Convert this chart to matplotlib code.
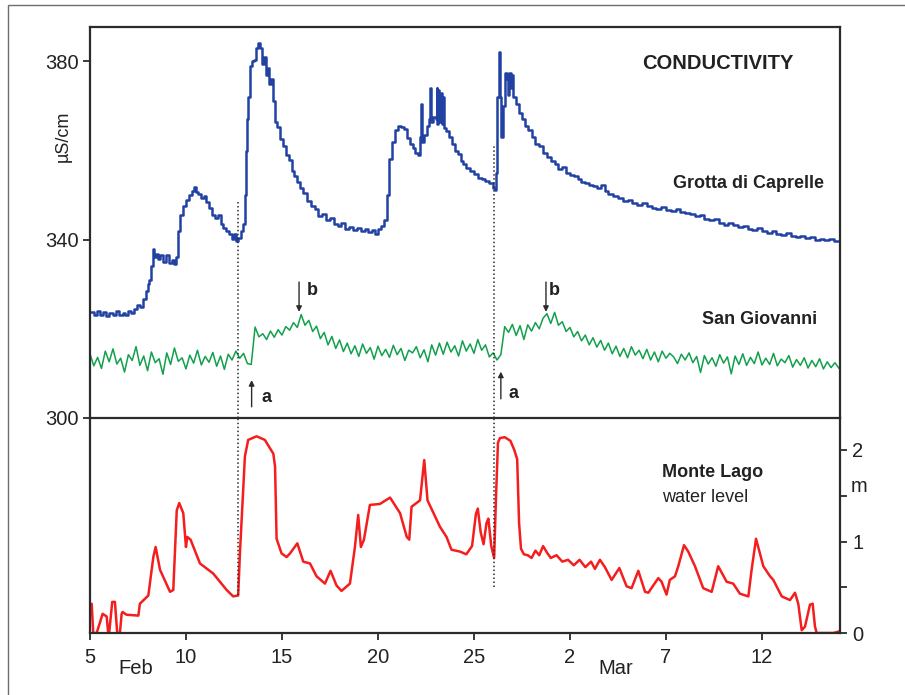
import matplotlib
matplotlib.use("Agg")
import matplotlib.pyplot as plt
from matplotlib.patches import Rectangle
import numpy as np

plt.rcParams['font.family'] = ['Liberation Sans', 'DejaVu Sans']

# Grotta di Caprelle conductivity [uS/cm], day counted from 1 Feb (Mar 2 = day 30)
blue_day = [5.0, 5.2, 5.35, 5.5, 5.7, 5.85, 6.0, 6.2, 6.35, 6.5, 6.7, 6.85, 7.0, 7.15, 7.3, 7.45,
            7.6, 7.75, 7.9, 8.0, 8.1, 8.2, 8.28, 8.35, 8.45, 8.55, 8.65, 8.8, 8.95, 9.1, 9.25, 9.4,
            9.5, 9.6, 9.7, 9.85, 10.0, 10.15, 10.3, 10.4, 10.5, 10.65, 10.8, 10.95, 11.05, 11.2,
            11.35, 11.5, 11.65, 11.8, 11.95, 12.1, 12.25, 12.4, 12.5, 12.6, 12.72, 12.85, 12.95,
            13.05, 13.12, 13.18, 13.25, 13.32, 13.45, 13.55, 13.65, 13.75, 13.85, 13.95, 14.05,
            14.15, 14.25, 14.35, 14.45, 14.55, 14.65, 14.75, 14.9, 15.05, 15.2, 15.35, 15.5, 15.65,
            15.8, 15.95, 16.1, 16.3, 16.5, 16.7, 16.9, 17.1, 17.3, 17.5, 17.7, 17.9, 18.1, 18.3,
            18.5, 18.7, 18.9, 19.1, 19.3, 19.5, 19.7, 19.85, 20.0, 20.15, 20.3, 20.45, 20.6, 20.75,
            20.9, 21.05, 21.2, 21.35, 21.5, 21.65, 21.8, 21.95, 22.1, 22.2, 22.25, 22.3, 22.4,
            22.55, 22.65, 22.7, 22.75, 22.85, 23.0, 23.05, 23.1, 23.15, 23.2, 23.27, 23.32, 23.4,
            23.45, 23.55, 23.7, 23.85, 24.0, 24.15, 24.3, 24.45, 24.6, 24.8, 25.0, 25.2, 25.4,
            25.6, 25.8, 26.0, 26.08, 26.15, 26.22, 26.28, 26.33, 26.4, 26.5, 26.62, 26.7, 26.78,
            26.85, 26.95, 27.0, 27.05, 27.2, 27.35, 27.5, 27.65, 27.8, 28.0, 28.2, 28.4, 28.6,
            28.8, 29.0, 29.2, 29.4, 29.6, 29.8, 30.0, 30.2, 30.4, 30.6, 30.8, 31.0, 31.2, 31.4,
            31.6, 31.8, 32.0, 32.25, 32.5, 32.75, 33.0, 33.25, 33.5, 33.75, 34.0, 34.25, 34.5,
            34.75, 35.0, 35.25, 35.5, 35.75, 36.0, 36.25, 36.5, 36.75, 37.0, 37.25, 37.5, 37.75,
            38.0, 38.25, 38.5, 38.75, 39.0, 39.25, 39.5, 39.75, 40.0, 40.25, 40.5, 40.75, 41.0,
            41.25, 41.5, 41.75, 42.0, 42.25, 42.5, 42.75, 43.0, 43.25, 43.5, 43.75, 44.06]
blue_val = [323.8, 323.2, 324.0, 323.1, 323.7, 322.9, 323.5, 323.0, 323.9, 323.2, 323.6, 323.0,
            324.1, 323.6, 324.5, 325.4, 325.0, 326.6, 328.5, 330.0, 331.0, 334.0, 338.0, 336.0,
            336.8, 335.6, 336.6, 335.0, 336.5, 334.8, 335.5, 334.6, 336.0, 342.0, 345.5, 347.5,
            349.0, 350.0, 351.0, 351.8, 350.7, 350.2, 349.3, 349.8, 348.5, 347.0, 345.5, 344.8,
            345.6, 343.6, 342.6, 342.0, 341.2, 340.2, 341.3, 339.6, 340.3, 342.0, 343.5, 350.0,
            360.0, 367.0, 372.0, 379.0, 380.0, 380.3, 383.0, 384.2, 383.0, 379.5, 381.0, 377.0,
            378.5, 375.0, 376.0, 371.0, 366.5, 365.2, 362.5, 361.0, 359.0, 357.8, 355.5, 354.3,
            353.0, 351.5, 350.5, 348.6, 347.5, 346.8, 345.4, 345.8, 344.3, 344.8, 343.6, 343.1,
            343.8, 342.4, 342.9, 342.1, 342.7, 341.9, 342.5, 341.8, 342.2, 341.3, 342.5, 343.0,
            344.5, 350.0, 358.0, 362.0, 364.5, 365.5, 365.3, 364.8, 362.8, 361.5, 360.5, 359.5,
            359.0, 363.0, 370.5, 362.0, 363.5, 365.5, 367.0, 374.0, 366.5, 367.5, 367.0, 374.0,
            366.0, 373.5, 366.5, 373.0, 366.0, 372.0, 365.0, 364.3, 363.0, 361.5, 360.0, 359.2,
            357.6, 357.0, 356.0, 355.5, 354.8, 353.8, 353.6, 353.2, 352.8, 351.5, 351.2, 355.0,
            372.0, 382.0, 372.0, 363.0, 370.0, 377.5, 376.0, 372.5, 377.5, 374.0, 377.0, 372.0,
            370.5, 368.5, 367.0, 365.6, 364.6, 363.0, 361.5, 361.0, 359.5, 358.6, 357.7, 357.0,
            355.9, 356.3, 355.0, 354.6, 354.2, 353.5, 353.0, 352.6, 352.2, 352.0, 351.7, 352.3,
            351.0, 350.2, 349.7, 349.4, 348.6, 348.9, 348.2, 347.8, 348.3, 347.5, 347.2, 346.9,
            347.4, 346.7, 346.5, 346.9, 346.2, 346.0, 345.7, 345.2, 345.5, 344.7, 344.3, 344.6,
            343.8, 343.4, 343.7, 343.2, 342.8, 343.0, 342.5, 342.2, 342.6, 342.0, 341.6, 341.9,
            341.3, 341.1, 341.4, 340.9, 340.6, 340.9, 340.3, 340.5, 340.0, 340.2, 339.9, 340.1,
            339.7, 339.5]

# San Giovanni conductivity, sampled every 0.2 day from day 5
green_start = 5.0
green_step = 0.2
green_val = [314.4, 311.7, 313.6, 311.1, 315.0, 312.6, 315.5, 312.1, 313.4, 310.3, 314.2, 312.9,
             316.0, 311.8, 313.9, 310.6, 314.8, 312.4, 313.3, 309.8, 314.6, 312.0, 315.7, 312.7,
             313.5, 311.0, 314.1, 312.3, 315.2, 311.9, 313.8, 312.5, 314.7, 311.6, 313.9, 310.9,
             314.3, 313.0, 315.0, 313.4, 314.5, 312.2, 312.0, 320.4, 318.2, 318.9, 317.6, 319.5,
             318.1, 319.8, 318.6, 320.5, 319.7, 321.4, 320.3, 323.2, 320.8, 321.9, 319.4, 320.6,
             317.8, 319.2, 316.4, 318.3, 315.6, 317.5, 314.9, 316.8, 314.4, 316.2, 313.8, 316.6,
             314.5, 315.8, 313.2, 316.1, 314.0, 315.4, 313.6, 316.3, 314.2, 315.6, 312.9, 315.2,
             314.6, 316.0, 313.5, 315.3, 312.6, 316.4, 314.1, 316.8, 314.3, 317.0, 314.8, 316.2,
             313.9, 317.3, 315.0, 316.6, 314.5, 317.6, 315.2, 316.4, 313.7, 314.6, 313.0, 314.2,
             320.5, 319.2, 321.0, 318.5, 320.7, 317.6, 320.9, 319.5, 321.4, 320.0, 322.4, 323.4,
             321.2, 323.7, 320.8, 321.6, 319.4, 320.3, 318.2, 319.4, 317.3, 318.6, 316.4, 318.0,
             315.9, 317.4, 315.2, 316.8, 314.4, 316.1, 313.8, 315.6, 313.5, 316.0, 314.1, 315.2,
             313.3, 315.4, 313.0, 314.8, 312.6, 315.0, 313.4, 314.5, 313.7, 312.2, 314.3, 313.0,
             314.6, 312.4, 313.8, 310.2, 314.0, 312.1, 313.5, 311.6, 314.2, 312.3, 313.7, 309.9,
             313.9, 312.0, 314.4, 311.8, 313.6, 312.2, 314.8, 311.9, 313.4, 312.0, 314.5, 311.7,
             313.2, 312.4, 314.0, 311.4, 313.1, 311.8, 313.5, 311.2, 312.9, 311.5, 313.3, 311.0,
             312.6, 311.3, 312.4, 311.2]

# Monte Lago water level [m]
red_day = [5.0, 5.09, 5.17, 5.35, 5.66, 5.87, 5.95, 6.0, 6.16, 6.3, 6.42, 6.56, 6.65, 6.7, 6.9,
           7.52, 7.6, 8.04, 8.3, 8.42, 8.65, 9.17, 9.34, 9.52, 9.65, 9.86, 10.0, 10.07, 10.24,
           10.73, 11.42, 12.12, 12.46, 12.72, 12.81, 13.07, 13.24, 13.68, 14.11, 14.55, 14.64,
           14.72, 14.98, 15.24, 15.42, 15.8, 16.11, 16.46, 16.8, 17.24, 17.53, 17.84, 18.1, 18.54,
           18.8, 18.97, 19.11, 19.27, 19.58, 20.1, 20.63, 21.15, 21.5, 21.63, 21.75, 22.19, 22.41,
           22.58, 23.23, 23.57, 23.83, 24.27, 24.6, 24.9, 25.1, 25.2, 25.35, 25.5, 25.65, 25.75,
           25.9, 26.05, 26.15, 26.25, 26.35, 26.6, 26.9, 27.1, 27.25, 27.35, 27.45, 27.6, 27.8,
           28.0, 28.2, 28.4, 28.6, 28.8, 29.0, 29.3, 29.6, 29.9, 30.2, 30.5, 30.8, 31.1, 31.3,
           31.56, 31.82, 32.17, 32.57, 32.95, 33.21, 33.56, 33.91, 34.08, 34.6, 34.77, 35.03,
           35.2, 35.47, 35.64, 35.94, 36.16, 36.51, 36.94, 37.38, 37.72, 38.16, 38.5, 38.85,
           39.29, 39.46, 39.69, 40.07, 40.42, 40.59, 41.03, 41.46, 41.72, 41.89, 42.07, 42.24,
           42.5, 42.64, 42.76, 42.85, 43.72, 44.06]
red_val = [0.3, 0.32, 0.0, 0.0, 0.21, 0.18, 0.0, 0.0, 0.34, 0.34, 0.0, 0.0, 0.21, 0.23, 0.2,
           0.19, 0.32, 0.41, 0.83, 0.94, 0.69, 0.45, 0.47, 1.34, 1.42, 1.31, 0.94, 1.05, 1.02,
           0.76, 0.65, 0.47, 0.4, 0.41, 0.87, 1.93, 2.11, 2.15, 2.11, 1.96, 1.82, 1.03, 0.87,
           0.83, 0.87, 0.98, 0.78, 0.76, 0.62, 0.54, 0.68, 0.52, 0.46, 0.54, 0.94, 1.29, 0.94,
           1.02, 1.4, 1.41, 1.48, 1.31, 1.05, 1.02, 1.38, 1.45, 1.89, 1.45, 1.16, 1.05, 0.91,
           0.89, 0.86, 0.95, 1.3, 1.36, 1.1, 0.97, 1.2, 1.25, 0.95, 0.82, 1.5, 2.08, 2.13, 2.14,
           2.1, 2.0, 1.9, 1.2, 0.92, 0.86, 0.85, 0.82, 0.9, 0.85, 0.95, 0.88, 0.82, 0.85, 0.78,
           0.8, 0.74, 0.8, 0.72, 0.78, 0.7, 0.8, 0.72, 0.58, 0.71, 0.51, 0.49, 0.68, 0.45, 0.44,
           0.6, 0.56, 0.42, 0.58, 0.62, 0.73, 0.96, 0.89, 0.73, 0.49, 0.45, 0.73, 0.56, 0.54,
           0.43, 0.4, 0.69, 1.03, 0.73, 0.62, 0.58, 0.4, 0.36, 0.44, 0.32, 0.03, 0.07, 0.31,
           0.32, 0.07, 0.0, 0.0, 0.02]

day_ticks = [5, 10, 15, 20, 25, 30, 35, 40]
day_labels = ['5', '10', '15', '20', '25', '2', '7', '12']
event_days = [12.72, 26.06]

frame = '#2b2b2b'
blue = '#2142a3'
green = '#12a04c'
red = '#f41e1e'


def style_axes(ax):
    for s in ax.spines.values():
        s.set_linewidth(1.6)
        s.set_color(frame)
    ax.tick_params(colors=frame, labelcolor='#222222', width=1.3, length=5,
                   direction='out', labelsize=14.5)


def main():
    fig = plt.figure(figsize=(9.05, 6.95), dpi=100)
    fig.patches.append(Rectangle((8 / 905, -0.2), 1.2, 1.2 - 5 / 695,
                                 transform=fig.transFigure, fill=False,
                                 edgecolor='#6e6e6e', lw=1.0))

    ax2 = fig.add_axes([0.0994, 0.0892, 0.8287, 0.3094])
    ax1 = fig.add_axes([0.0994, 0.3986, 0.8287, 0.5625])
    ax1.patch.set_visible(False)
    style_axes(ax1)
    style_axes(ax2)

    # top panel: conductivity
    ax1.plot(blue_day, blue_val, color=blue, lw=1.8, drawstyle='steps-post')
    green_day = green_start + green_step * np.arange(len(green_val))
    ax1.plot(green_day, green_val, color=green, lw=1.1)
    ax1.set_xlim(5, 44.06)
    ax1.set_ylim(300, 387.7)
    ax1.set_yticks([300, 340, 380])
    ax1.set_xticks([])
    ax1.tick_params(axis='y', pad=3)
    ax1.text(-0.036, 0.72, 'µS/cm', transform=ax1.transAxes, rotation=90,
             ha='center', va='center', fontsize=13, color='#222222')

    ax1.vlines(event_days[0], 300, 348.6, color=frame, lw=1.1, linestyles=(0, (1, 1.6)))
    ax1.vlines(event_days[1], 300, 361.0, color=frame, lw=1.1, linestyles=(0, (1, 1.6)))

    ax1.text(37.7, 379.6, 'CONDUCTIVITY', ha='center', va='center', fontsize=14.5,
             fontweight='bold', color='#222222')
    ax1.text(43.23, 352.7, 'Grotta di Caprelle', ha='right', va='center', fontsize=13,
             fontweight='bold', color='#222222')
    ax1.text(42.86, 322.0, 'San Giovanni', ha='right', va='center', fontsize=13,
             fontweight='bold', color='#222222')

    arrow = dict(arrowstyle='-|>', lw=1.0, color=frame, mutation_scale=8, shrinkA=0, shrinkB=0)
    for x, y0, y1 in [(13.42, 302.5, 308.5), (26.4, 304.3, 310.4)]:
        ax1.annotate('', xy=(x, y1), xytext=(x, y0), arrowprops=arrow)
    for x, y0, y1 in [(15.89, 330.5, 323.8), (28.75, 330.5, 323.8)]:
        ax1.annotate('', xy=(x, y1), xytext=(x, y0), arrowprops=arrow)
    for x, y, s in [(14.17, 304.5, 'a'), (27.08, 305.6, 'a'), (16.6, 328.5, 'b'), (29.2, 328.7, 'b')]:
        ax1.text(x, y, s, ha='center', va='center', fontsize=13, fontweight='bold', color='#222222')

    # bottom panel: water level
    ax2.plot(red_day, red_val, color=red, lw=1.8)
    ax2.set_xlim(5, 44.06)
    ax2.set_ylim(0, 2.35)
    ax2.spines['top'].set_visible(False)
    ax2.yaxis.tick_right()
    ax2.set_yticks([0, 0.5, 1, 1.5, 2])
    ax2.set_yticklabels(['0', '', '1', '', '2'])
    ax2.tick_params(axis='y', pad=4)
    ax2.set_xticks(day_ticks)
    ax2.set_xticklabels(day_labels)
    ax2.tick_params(axis='x', pad=6)
    ax2.vlines(event_days[0], 0.41, 2.35, color=frame, lw=1.1, linestyles=(0, (1, 1.6)))
    ax2.vlines(event_days[1], 0.5, 2.35, color=frame, lw=1.1, linestyles=(0, (1, 1.6)))

    ax2.text(34.79, 1.75, 'Monte Lago', ha='left', va='center', fontsize=13,
             fontweight='bold', color='#222222')
    ax2.text(34.79, 1.48, 'water level', ha='left', va='center', fontsize=13, color='#222222')
    ax2.text(44.62, 1.6, 'm', ha='left', va='center', fontsize=14.5, color='#222222', clip_on=False)

    fig.text(136 / 905, 1 - 669 / 695, 'Feb', ha='center', va='center', fontsize=14.5, color='#222222')
    fig.text(616 / 905, 1 - 669 / 695, 'Mar', ha='center', va='center', fontsize=14.5, color='#222222')

    fig.savefig('out.png', dpi=100)


if __name__ == "__main__":
    main()
